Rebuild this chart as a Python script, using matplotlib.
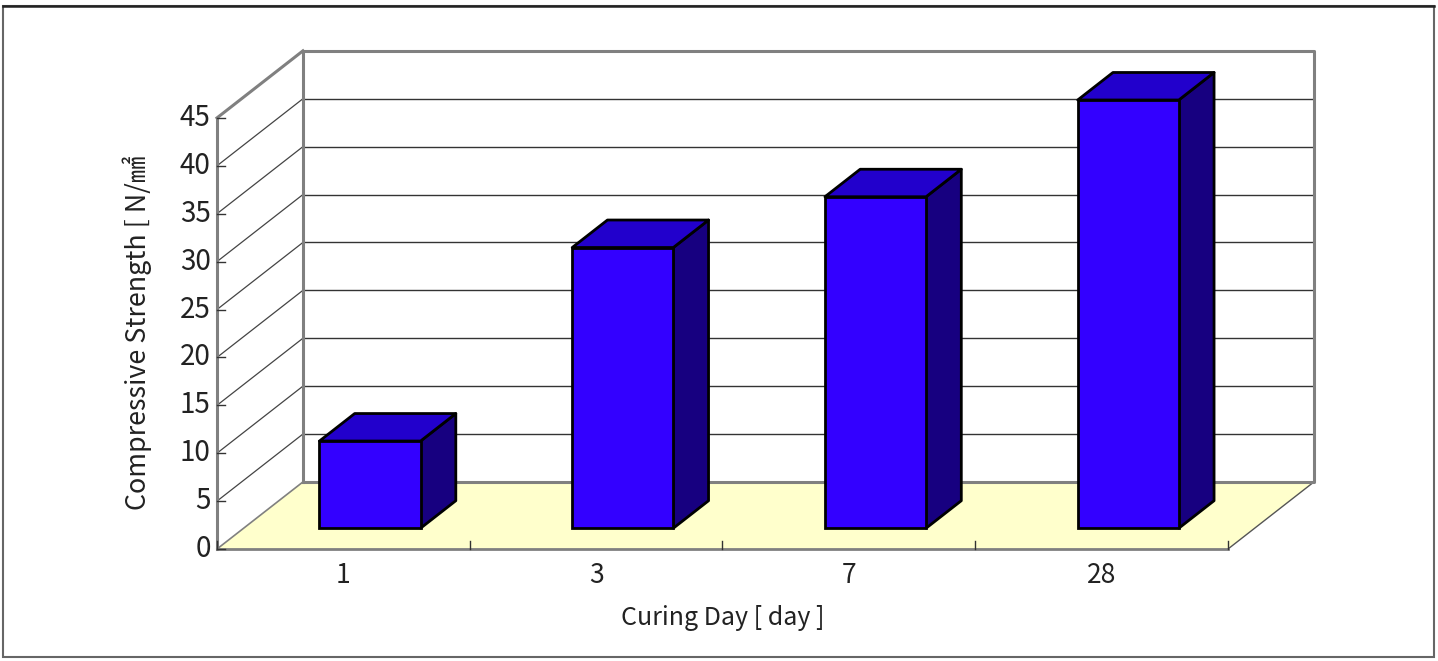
import matplotlib
matplotlib.use("Agg")
import matplotlib.pyplot as plt
from matplotlib.patches import Polygon, Rectangle

# ---- data ----
categories = ["1", "3", "7", "28"]
strength = [9.1, 29.3, 34.6, 44.7]
y_ticks = [0, 5, 10, 15, 20, 25, 30, 35, 40, 45]
x_label = "Curing Day [ day ]"
y_label = "Compressive Strength [ N/㎟"

FONT = ["Noto Sans CJK KR", "DejaVu Sans"]
plt.rcParams["font.family"] = FONT

# ---- projection settings (data units) ----
DX, DY = 0.340, 7.0        # full depth offset (x in slot units, y in value units)
BAR_W = 0.40               # bar width in slot units
D0, D1 = 0.31, 0.72        # bar depth span (fraction of full depth)
YMAX = 45

W, H = 1438, 661
fig = plt.figure(figsize=(W / 100, H / 100), dpi=100)
ax = fig.add_axes([0, 0, 1, 1])
px_x = 252.75
px_y = 9.58
x0_px, y0_px = 217, H - 549
ax.set_xlim(-x0_px / px_x, (W - x0_px) / px_x)
ax.set_ylim(-y0_px / px_y, (H - y0_px) / px_y)
ax.axis("off")

n = len(categories)
GRAY = "#808080"
TXT = "#222222"

# figure border
fig.patches.append(Rectangle((3 / W, 4 / H), (W - 7) / W, (H - 10) / H,
                             transform=fig.transFigure, fill=False,
                             edgecolor="#666666", lw=1.5))
fig.lines.append(plt.Line2D([3 / W, (W - 4) / W], [(H - 6) / H, (H - 6) / H],
                            transform=fig.transFigure, color="#222222", lw=1.8))

# floor
floor = Polygon([(0, 0), (n, 0), (n + DX, DY), (DX, DY)], closed=True,
                facecolor="#FFFFCC", edgecolor="none", zorder=1)
ax.add_patch(floor)
ax.plot([n, n + DX], [0, DY], color="#555555", lw=1, zorder=2)
ax.plot([0, n], [0, 0], color=GRAY, lw=2, zorder=2)
ax.plot([0, DX], [0, DY], color=GRAY, lw=1.2, zorder=2)

# back wall gridlines and side wall diagonals
for v in y_ticks[1:]:
    ax.plot([DX, n + DX], [v + DY, v + DY], color="#333333", lw=1, zorder=2)
    ax.plot([0, DX], [v, v + DY], color="#444444", lw=0.9, zorder=2)
# back wall frame
ax.plot([DX, DX, n + DX, n + DX, DX], [DY, YMAX + DY, YMAX + DY, DY, DY],
        color=GRAY, lw=2.2, zorder=2)
# left axis and top diagonal
ax.plot([0, 0], [0, YMAX], color=GRAY, lw=2.2, zorder=3)
ax.plot([0, DX], [YMAX, YMAX + DY], color=GRAY, lw=2.2, zorder=3)

# y ticks and labels
for v in y_ticks:
    ax.plot([0, 0.032], [v, v], color="#333333", lw=1, zorder=3)
    ax.text(-0.025, v, str(v), ha="right", va="center", fontsize=20,
            color=TXT, family=FONT)

# x ticks (category separators)
for k in range(n + 1):
    ax.plot([k, k], [0, 0.85], color="#333333", lw=1, zorder=3)

# bars
for i, (cat, val) in enumerate(zip(categories, strength)):
    xl = i + (1 - BAR_W) / 2 + D0 * DX
    xr = xl + BAR_W
    yb = D0 * DY
    yt = yb + val
    ddx = (D1 - D0) * DX
    ddy = (D1 - D0) * DY
    front = Polygon([(xl, yb), (xr, yb), (xr, yt), (xl, yt)], closed=True,
                    facecolor="#3300FF", edgecolor="black", lw=2, zorder=5)
    top = Polygon([(xl, yt), (xr, yt), (xr + ddx, yt + ddy), (xl + ddx, yt + ddy)],
                  closed=True, facecolor="#2200CC", edgecolor="black", lw=2,
                  joinstyle="round", zorder=5)
    side = Polygon([(xr, yb), (xr + ddx, yb + ddy), (xr + ddx, yt + ddy), (xr, yt)],
                   closed=True, facecolor="#170080", edgecolor="black", lw=2,
                   joinstyle="round", zorder=5)
    for p in (side, top, front):
        ax.add_patch(p)
    ax.text(i + 0.5, -2.75, cat, ha="center", va="center", fontsize=19,
            color=TXT, family=FONT)

ax.text(n / 2, -7.25, x_label, ha="center", va="center", fontsize=18,
        color=TXT, family=FONT)
ax.text(-0.317, 22.6, y_label, ha="center", va="center", rotation=90,
        fontsize=19.3, color=TXT, family=FONT)

fig.savefig("out.png", dpi=100)
